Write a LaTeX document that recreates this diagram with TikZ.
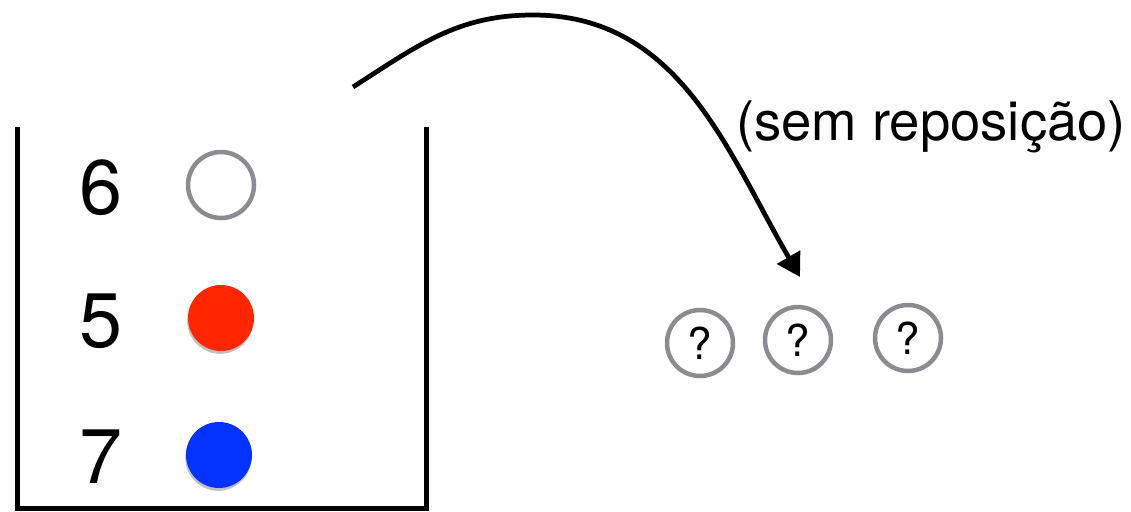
\documentclass[tikz,border=0pt]{standalone}
\usepackage{fontspec}
\setmainfont{TeX Gyre Heros}
\usetikzlibrary{arrows.meta}
\usetikzlibrary{shadows}

\definecolor{ballgray}{RGB}{138,140,144}
\definecolor{ballred}{RGB}{255,38,0}
\definecolor{ballblue}{RGB}{4,51,255}

\tikzset{
  wall/.style={line width=0.1cm},
  ballempty/.style={circle,draw=ballgray,line width=0.09cm,fill=white,minimum size=1.32cm,inner sep=0pt},
  ballfull/.style={circle,minimum size=1.32cm,inner sep=0pt,
    drop shadow={shadow xshift=-0.4pt,shadow yshift=-1.6pt,opacity=0.25,fill=black}},
  unknown/.style={ballempty,font=\fontsize{25}{25}\selectfont},
  number/.style={font=\fontsize{44}{44}\selectfont,inner sep=0pt}
}

\begin{document}
\begin{tikzpicture}[x=0.02cm,y=-0.02cm]
\useasboundingbox (0,0) rectangle (1131,511);

% urn
\draw[wall] (17,127) -- (17,508) -- (426,508) -- (426,127);

\node[number] (n6) at (101,188) {6};
\node[number] (n5) at (101,321) {5};
\node[number] (n7) at (101,457) {7};
\node[ballempty] (b6) at (221,185) {};
\node[ballfull,fill=ballred] (b5) at (221,318) {};
\node[ballfull,fill=ballblue] (b7) at (219,455) {};

% draws
\node[unknown] (q1) at (700,343) {?};
\node[unknown] (q2) at (798,340) {?};
\node[unknown] (q3) at (908,338) {?};

\coordinate (from) at (353,87);
\coordinate (top) at (533,15);
\coordinate (to) at (800,277);
\draw[line width=0.095cm,-{Triangle[length=0.46cm,width=0.52cm]}]
  (from) .. controls (417,46) and (457,15) .. (top)
  .. controls (679,15) and (727,151) .. (to);

\node[font=\fontsize{31}{31}\selectfont,anchor=base,inner sep=0pt] (note) at (931,140) {(sem reposição)};

\end{tikzpicture}
\end{document}
